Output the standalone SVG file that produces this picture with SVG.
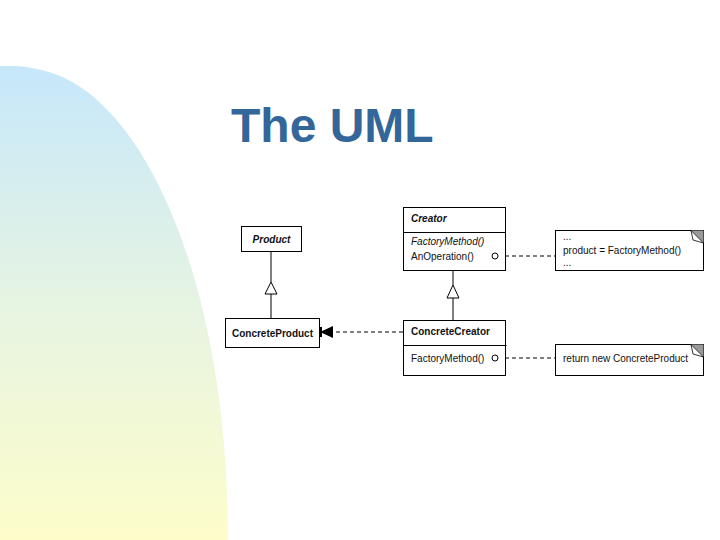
<svg xmlns="http://www.w3.org/2000/svg" width="720" height="540" viewBox="0 0 720 540">
<defs>
<linearGradient id="bg" x1="0" y1="0" x2="0" y2="1">
<stop offset="0" stop-color="#c6e7fb"/>
<stop offset="0.5" stop-color="#e6f4e2"/>
<stop offset="1" stop-color="#fdfdca"/>
</linearGradient>
<marker id="filled" viewBox="0 0 12 10" refX="12" refY="5" markerWidth="12" markerHeight="10" markerUnits="userSpaceOnUse" orient="auto">
<path d="M0,0 L12,5 L0,10 Z" fill="#000"/>
</marker>
<marker id="inherit" viewBox="0 0 14 14" refX="13" refY="7" markerWidth="14" markerHeight="14" markerUnits="userSpaceOnUse" orient="auto">
<path d="M1,1 L13,7 L1,13 Z" fill="#fff" stroke="#000" stroke-width="1"/>
</marker>
</defs>
<style>
.box{fill:#fff;stroke:#000;stroke-width:1}
.t{font-family:"Liberation Sans",Arial,sans-serif;font-size:10px;fill:#111}
.b{font-weight:bold}
.i{font-style:italic}
.line{stroke:#000;stroke-width:1;fill:none}
.dash{stroke:#000;stroke-width:1;fill:none;stroke-dasharray:4,3}
.dot{fill:#fff;stroke:#000;stroke-width:1}
</style>
<rect width="720" height="540" fill="#fff"/>
<path d="M0,66 C10,66 30,64 60,76 C150,114 228,290 228,540 L0,540 Z" fill="url(#bg)"/>
<text x="231" y="142" font-family="Liberation Sans,Arial,sans-serif" font-size="48" font-weight="bold" fill="#336699">The UML</text>

<g id="connectors">
<line class="line" x1="271" y1="252" x2="271" y2="282"/>
<path class="line" d="M271,282 L265,294 L277,294 Z" fill="#fff"/>
<line class="line" x1="271" y1="294" x2="271" y2="318"/>
<line class="line" x1="453" y1="270" x2="453" y2="285"/>
<path class="line" d="M453,285 L447,298 L459,298 Z" fill="#fff"/>
<line class="line" x1="453" y1="298" x2="453" y2="320"/>
<line class="dash" x1="403" y1="332" x2="332" y2="332"/>
<path d="M320,332 L333,326 L333,338 Z" fill="#000"/>
<line x1="321" y1="327" x2="321" y2="337" stroke="#000" stroke-width="2"/>
<line class="dash" x1="498" y1="256" x2="555" y2="256"/>
<line class="dash" x1="498" y1="358" x2="555" y2="358"/>
</g>

<g id="product">
<rect class="box" x="241.5" y="226.5" width="60" height="25"/>
<text class="t b i" x="271.5" y="243" text-anchor="middle">Product</text>
</g>

<g id="concreteproduct">
<rect class="box" x="225.5" y="318.5" width="94" height="29"/>
<text class="t b" x="272.5" y="337" text-anchor="middle" textLength="81" lengthAdjust="spacingAndGlyphs">ConcreteProduct</text>
</g>

<g id="creator">
<rect class="box" x="403.5" y="207.5" width="102" height="63"/>
<line class="line" x1="403.5" y1="232.5" x2="505.5" y2="232.5"/>
<text class="t b i" x="411" y="222">Creator</text>
<text class="t i" x="411" y="245">FactoryMethod()</text>
<text class="t" x="411" y="260">AnOperation()</text>
<circle class="dot" cx="495" cy="256" r="3"/>
</g>

<g id="concretecreator">
<rect class="box" x="403.5" y="320.5" width="102" height="55"/>
<line class="line" x1="403.5" y1="345.5" x2="506.5" y2="345.5"/>
<text class="t b" x="411" y="335">ConcreteCreator</text>
<text class="t" x="411" y="362">FactoryMethod()</text>
<circle class="dot" cx="495" cy="358" r="3"/>
</g>

<g id="note1">
<rect class="box" x="555.5" y="230.5" width="148" height="40"/>
<path d="M691,230.5 L703.5,230.5 L703.5,243 Z" fill="#999"/>
<path d="M691,230.5 L703.5,243 L693,240 Z" fill="#fff" stroke="#000" stroke-width="0.8"/>
<text class="t" x="563" y="240">...</text>
<text class="t" x="563" y="254">product = FactoryMethod()</text>
<text class="t" x="563" y="266">...</text>
</g>

<g id="note2">
<rect class="box" x="555.5" y="344.5" width="148" height="31"/>
<path d="M691,344.5 L703.5,344.5 L703.5,357 Z" fill="#999"/>
<path d="M691,344.5 L703.5,357 L693,354 Z" fill="#fff" stroke="#000" stroke-width="0.8"/>
<text class="t" x="563" y="362">return new ConcreteProduct</text>
</g>
</svg>
